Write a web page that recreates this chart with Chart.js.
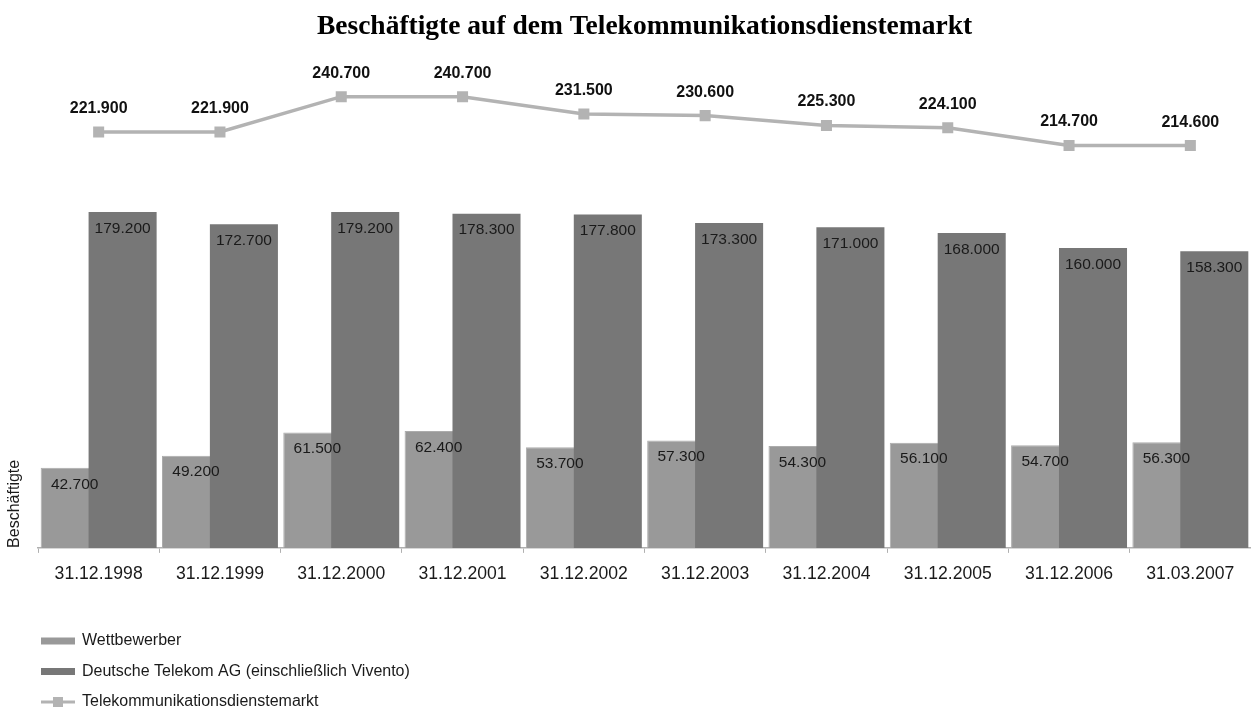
<!DOCTYPE html>
<html>
<head>
<meta charset="utf-8">
<script src="https://cdn.jsdelivr.net/npm/chart.js@4/dist/chart.umd.min.js"></script>
<style>
html,body{margin:0;padding:0;background:#fff;overflow:hidden}
canvas{display:block}
</style>
</head>
<body>
<canvas id="c" width="1251" height="708" style="width:1251px;height:708px"></canvas>
<script>
const categories = ['31.12.1998','31.12.1999','31.12.2000','31.12.2001','31.12.2002','31.12.2003','31.12.2004','31.12.2005','31.12.2006','31.03.2007'];
const wettbewerber = [42700, 49200, 61500, 62400, 53700, 57300, 54300, 56100, 54700, 56300];
const telekom = [179200, 172700, 179200, 178300, 177800, 173300, 171000, 168000, 160000, 158300];
const markt = [221900, 221900, 240700, 240700, 231500, 230600, 225300, 224100, 214700, 214600];
const seriesNames = ['Wettbewerber', 'Deutsche Telekom AG (einschließlich Vivento)', 'Telekommunikationsdienstemarkt'];
const chartTitle = 'Beschäftigte auf dem Telekommunikationsdienstemarkt';
const yTitle = 'Beschäftigte';

const SANS = "'Liberation Sans', Arial, sans-serif";
const fmt = v => String(v).replace(/\B(?=(\d{3})+(?!\d))/g, '.');

// draw dark bars on top of light bars
const reorderPlugin = {
  id: 'reorder',
  beforeDatasetDraw(chart, args) {
    if (args.index === 1 && !chart.$drawDark) return false;
  },
  afterDatasetDraw(chart, args) {
    if (args.index === 0) {
      chart.$drawDark = true;
      chart.getDatasetMeta(1).controller.draw();
      chart.$drawDark = false;
    }
  }
};

const labelPlugin = {
  id: 'valueLabels',
  afterDatasetsDraw(chart) {
    const ctx = chart.ctx;
    ctx.save();
    ctx.textAlign = 'center';
    ctx.textBaseline = 'middle';
    ctx.fillStyle = '#1a1a1a';
    [0, 1].forEach(di => {
      const meta = chart.getDatasetMeta(di);
      ctx.font = '15.5px ' + SANS;
      meta.data.forEach((el, i) => {
        ctx.fillText(fmt(chart.data.datasets[di].data[i]), el.x, el.y + 16.5);
      });
    });
    const lm = chart.getDatasetMeta(2);
    ctx.font = 'bold 16px ' + SANS;
    ctx.fillStyle = '#111';
    lm.data.forEach((el, i) => {
      ctx.fillText(fmt(chart.data.datasets[2].data[i]), el.x, el.y - 23.5);
    });
    ctx.restore();
  }
};

const legendPlugin = {
  id: 'vLegend',
  afterDraw(chart) {
    const ctx = chart.ctx;
    const ds = chart.data.datasets;
    ctx.save();
    ctx.font = '16px ' + SANS;
    ctx.textBaseline = 'middle';
    ctx.textAlign = 'left';
    const x0 = 41, x1 = 75;
    ds.forEach((d, i) => {
      const y = chart.height - 67 + i * 30.5;
      if (d.type === 'line') {
        ctx.strokeStyle = d.borderColor;
        ctx.lineWidth = 3;
        ctx.beginPath();
        ctx.moveTo(x0, y);
        ctx.lineTo(x1, y);
        ctx.stroke();
        ctx.fillStyle = d.pointBackgroundColor;
        ctx.fillRect((x0 + x1) / 2 - 5, y - 5, 10, 10);
      } else {
        ctx.fillStyle = d.backgroundColor;
        ctx.fillRect(x0, y - 3.5, x1 - x0, 7);
      }
      ctx.fillStyle = '#1a1a1a';
      ctx.fillText(d.label, 82, y);
    });
    ctx.restore();
  }
};

new Chart(document.getElementById('c'), {
  type: 'bar',
  data: {
    labels: categories,
    datasets: [
      {
        label: seriesNames[0],
        data: wettbewerber,
        backgroundColor: '#999999',
        borderColor: '#acacac',
        borderWidth: 1,
        categoryPercentage: 0.79,
        barPercentage: 1.42
      },
      {
        label: seriesNames[1],
        data: telekom,
        backgroundColor: '#777777',
        borderWidth: 0,
        categoryPercentage: 0.79,
        barPercentage: 1.42
      },
      {
        type: 'line',
        label: seriesNames[2],
        data: markt,
        borderColor: '#b3b3b3',
        borderWidth: 3.5,
        pointStyle: 'rect',
        pointRadius: 7.8,
        pointBackgroundColor: '#b3b3b3',
        pointBorderWidth: 0,
        tension: 0,
        fill: false
      }
    ]
  },
  options: {
    responsive: false,
    animation: false,
    devicePixelRatio: 1,
    events: [],
    layout: { autoPadding: false, padding: { left: 0, right: 0, top: 0, bottom: 112 } },
    plugins: {
      legend: { display: false },
      tooltip: { enabled: false },
      title: {
        display: true,
        text: chartTitle,
        fullSize: false,
        color: '#000',
        font: { family: "'Liberation Serif', 'Times New Roman', serif", size: 27.5, weight: 'bold' },
        padding: { top: 10.8, bottom: 16.7 }
      }
    },
    scales: {
      x: {
        offset: true,
        grid: { display: true, drawOnChartArea: false, drawTicks: true, tickLength: 5, color: '#b0b0b0', offset: true },
        border: { display: true, color: '#b0b0b0', width: 1.5 },
        ticks: { font: { family: SANS, size: 17.6 }, color: '#1a1a1a', padding: 11, maxRotation: 0, autoSkip: false }
      },
      y: {
        min: 0,
        max: 260000,
        grid: { display: false, drawTicks: false },
        border: { display: false },
        ticks: { display: false },
        title: {
          display: true,
          text: yTitle,
          align: 'start',
          color: '#1a1a1a',
          font: { family: SANS, size: 16 },
          padding: { top: 5.4, bottom: 13.4 }
        }
      }
    }
  },
  plugins: [reorderPlugin, labelPlugin, legendPlugin]
});
</script>
</body>
</html>
